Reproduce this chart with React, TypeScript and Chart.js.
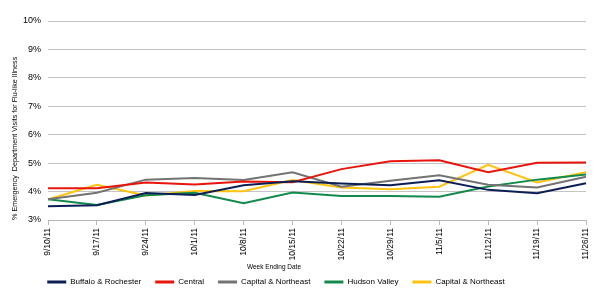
import { useEffect, useRef } from 'react';
import { Chart, registerables } from 'chart.js';

Chart.register(...registerables);

const weeks = ['9/10/11', '9/17/11', '9/24/11', '10/1/11', '10/8/11', '10/15/11', '10/22/11', '10/29/11', '11/5/11', '11/12/11', '11/19/11', '11/26/11'];

const buffaloRochester = [3.48, 3.52, 3.95, 3.88, 4.22, 4.36, 4.28, 4.22, 4.4, 4.06, 3.94, 4.29];
const central = [4.12, 4.12, 4.32, 4.25, 4.35, 4.33, 4.79, 5.07, 5.1, 4.68, 5.01, 5.02];
const capitalNortheast = [3.73, 3.96, 4.42, 4.48, 4.41, 4.68, 4.17, 4.38, 4.57, 4.24, 4.14, 4.52];
const hudsonValley = [3.73, 3.53, 3.87, 3.96, 3.59, 3.97, 3.84, 3.84, 3.82, 4.18, 4.42, 4.6];
const capitalNortheast2 = [3.72, 4.24, 3.86, 4.02, 4.01, 4.41, 4.14, 4.08, 4.17, 4.94, 4.32, 4.68];

const yTicksPct = [3, 4, 5, 6, 7, 8, 9, 10];

const FONT = "'Liberation Sans', Arial, sans-serif";

const series = [
  { label: 'Buffalo & Rochester', data: buffaloRochester, color: '#0c1f55' },
  { label: 'Central', data: central, color: '#e8150c' },
  { label: 'Capital & Northeast', data: capitalNortheast, color: '#737373' },
  { label: 'Hudson Valley', data: hudsonValley, color: '#138a4c' },
  { label: 'Capital & Northeast', data: capitalNortheast2, color: '#ffc20e' },
];

// Axis title drawn under the rotated date labels
const xTitlePlugin = {
  id: 'xTitle',
  afterDraw(chart: any) {
    const ctx = chart.ctx;
    ctx.save();
    ctx.font = `6.5px ${FONT}`;
    ctx.fillStyle = '#000';
    ctx.textAlign = 'center';
    ctx.textBaseline = 'middle';
    ctx.fillText('Week Ending Date', 274, 267);
    ctx.restore();
  },
};

// Nudge the legend row a little to the left of centre
const legendShiftPlugin = {
  id: 'legendShift',
  afterLayout(chart: any) {
    const lg = chart.legend;
    if (lg) {
      lg.left -= 17;
      lg.right -= 17;
    }
  },
};

export default function App() {
  const canvasRef = useRef<HTMLCanvasElement | null>(null);

  useEffect(() => {
    if (!canvasRef.current) return;
    const chart = new Chart(canvasRef.current, {
      type: 'line',
      data: {
        labels: weeks,
        datasets: series.map((s) => ({
          label: s.label,
          data: s.data,
          borderColor: s.color,
          backgroundColor: s.color,
          borderWidth: 2,
          pointRadius: 0,
          tension: 0,
          fill: false,
        })),
      },
      options: {
        animation: false,
        responsive: true,
        maintainAspectRatio: false,
        layout: { padding: { top: 21, right: 14, left: 0, bottom: 4 } },
        plugins: {
          tooltip: { enabled: false },
          legend: {
            position: 'bottom',
            labels: {
              boxWidth: 19,
              boxHeight: 3,
              padding: 14,
              color: '#000',
              font: { family: FONT, size: 8 },
              generateLabels: (chart: any) =>
                Chart.defaults.plugins.legend.labels
                  .generateLabels(chart)
                  .map((l: any) => ({ ...l, lineWidth: 0, fillStyle: l.strokeStyle })),
            },
          },
        },
        scales: {
          x: {
            offset: false,
            grid: {
              display: true,
              drawOnChartArea: false,
              drawTicks: true,
              tickLength: 5,
              color: '#b8b8b8',
            },
            border: { display: true, color: '#b8b8b8' },
            ticks: {
              minRotation: 90,
              maxRotation: 90,
              padding: 3,
              color: '#000',
              font: { family: FONT, size: 8.5 },
            },
            afterFit: (s: any) => {
              s.height = 44;
            },
          },
          y: {
            min: 3,
            max: 10,
            afterBuildTicks: (s: any) => {
              s.ticks = yTicksPct.map((v) => ({ value: v }));
            },
            grid: { color: '#c4c4c4', drawTicks: false, lineWidth: 1 },
            border: { display: false },
            ticks: {
              padding: 7,
              color: '#000',
              font: { family: FONT, size: 9 },
              callback: (v: any) => `${v}%`,
            },
            title: {
              display: true,
              align: 'start',
              text: '% Emergency  Department Visits for Flu-like Illness',
              color: '#000',
              font: { family: FONT, size: 7.2 },
              padding: { top: 11, bottom: 0 },
            },
            afterFit: (s: any) => {
              s.width = 48;
            },
          },
        },
      },
      plugins: [xTitlePlugin, legendShiftPlugin],
    });
    return () => chart.destroy();
  }, []);

  return (
    <div style={{ position: 'fixed', left: 0, top: 0, width: 600, height: 300, background: '#fff' }}>
      <canvas ref={canvasRef} />
    </div>
  );
}
